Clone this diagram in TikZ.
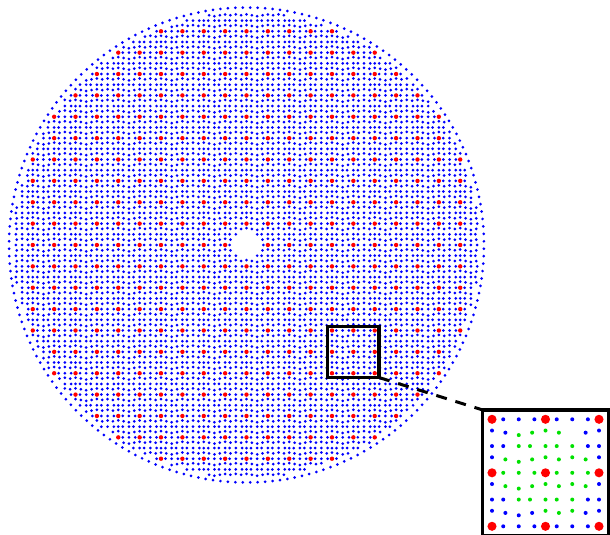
\documentclass[tikz,border=0pt]{standalone}
\usepackage{tikz}
\usepackage{xcolor}
\definecolor{meshgreen}{RGB}{0,225,0}

% small shift of the mesh points, period 8 in both directions
\newcommand\meshshift[2]{%
  \def\dx{0}\def\dy{0}%
  \ifodd#2\relax
    \ifodd#1\relax\else
      \ifnum#1=2 \def\dy{0.18}\else\def\dy{-0.16}\fi
    \fi
  \else
    \ifodd#1\relax
      \ifnum#1=7 \def\dx{0.17}\else
        \ifnum#1=3
          \ifnum#2=2 \def\dx{-0.16}\else\ifnum#2=6 \def\dx{-0.16}\else\def\dx{0.17}\fi\fi
        \else\def\dx{-0.16}\fi
      \fi
    \fi
  \fi}

\begin{document}
\begin{tikzpicture}[x=0.5pt, y=-0.5pt,
    rd/.style={fill=red, radius=0.41},
    bl/.style={fill=blue, radius=0.28},
    gr/.style={fill=meshgreen, radius=0.15},
    gap/.style={fill=none},
    frame/.style={draw=black, line width=1.6pt},
    link/.style={draw=black, line width=1.5pt, dash pattern=on 5.5pt off 4.5pt}]
  \useasboundingbox (0,0) rectangle (610,535);

  % --- Disk mesh (quarter spacing) ---
  \begin{scope}[shift={(246.5,245)}, x=2.6715pt, y=-2.6715pt]
    \foreach \i in {-44,...,44}{
      \pgfmathtruncatemacro\im{mod(\i+48,8)}
      \foreach \j in {-44,...,44}{
        \ifnum\numexpr\i*\i+\j*\j\relax<8 \else
        \ifnum\numexpr\i*\i+\j*\j\relax>1900 \else
          \pgfmathtruncatemacro\jm{mod(\j+48,8)}
          \meshshift{\im}{\jm}
          \def\pt{bl}
          \ifnum\numexpr\im*(\im-4)\relax=0
            \ifnum\numexpr\jm*(\jm-4)\relax=0
              \ifnum\numexpr\i*\i+\j*\j\relax<1873 \def\pt{rd}\fi
            \fi
          \fi
          \fill[\pt] ({\i+(\dx)},{\j+(\dy)}) circle;
        \fi\fi
      }
    }
    % boundary ring
    \foreach \a in {0,...,199}
      \fill[bl] ({44.45*cos(\a*1.8+0.9)},{44.45*sin(\a*1.8+0.9)}) circle;
    % zoomed window
    \coordinate (boxNW) at (15.2,15.2);
    \coordinate (boxSE) at (24.8,24.8);
    \draw[frame] (boxNW) rectangle (boxSE);
  \end{scope}

  % --- Inset: 2x2 cells magnified ---
  \begin{scope}[shift={(492,419.3)}, x=6.6875pt, y=-6.6875pt,
      rd/.append style={radius=0.34}, bl/.append style={radius=0.15}]
    \coordinate (insetNW) at (-0.7,-0.7);
    \coordinate (insetSE) at (8.7,8.7);
    \draw[frame, fill=white] (insetNW) rectangle (insetSE);
    \foreach \row [count=\jj from 0] in {
        {rd,bl,bl,bl,rd,bl,bl,bl,rd},
        {bl,bl,gr,gr,gr,gr,gap,bl,bl},
        {bl,bl,gr,gr,gr,gr,gr,bl,bl},
        {bl,gr,gr,gr,gr,gr,gr,gr,bl},
        {rd,gr,gr,gr,rd,gr,gr,gr,rd},
        {bl,gr,gr,gr,gr,gr,gr,gr,bl},
        {bl,bl,gr,gr,gr,gr,gr,bl,bl},
        {bl,bl,bl,bl,gr,gr,gr,bl,bl},
        {rd,bl,bl,bl,rd,bl,bl,bl,rd}}{
      \foreach \c [count=\kk from 0] in \row {
        \pgfmathtruncatemacro\jm{mod(\jj,8)}
        \pgfmathtruncatemacro\im{mod(\kk,8)}
        \meshshift{\im}{\jm}
        \fill[\c] ({\kk+(\dx)},{\jj+(\dy)}) circle;
      }
    }
  \end{scope}

  % --- Link from window to inset ---
  \draw[link] (boxSE) -- (insetNW);
\end{tikzpicture}
\end{document}
